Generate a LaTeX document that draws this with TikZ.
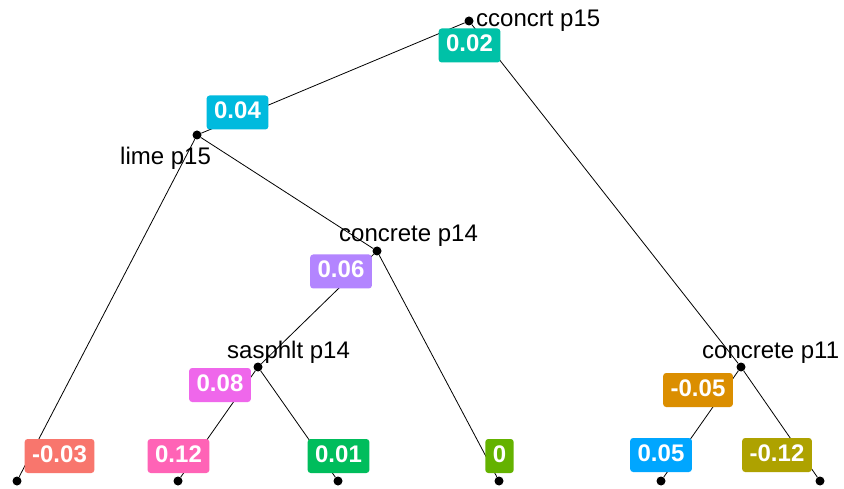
\documentclass[tikz,border=0pt]{standalone}
\usepackage{fontspec}
\setmainfont{Liberation Sans}
\begin{document}
\begin{tikzpicture}[x=1pt,y=-1pt,
  dot/.style={circle,fill=black,inner sep=0pt,minimum size=9pt},
  tag/.style={anchor=base west,inner sep=0pt,text=black,
    font=\fontsize{24}{28}\selectfont},
  val/.style={rounded corners=3pt,fill=#1,text=white,inner xsep=7.5pt,
    inner ysep=0pt,minimum height=34pt,text height=12.5pt,text depth=0pt,
    font=\fontsize{24}{28}\selectfont\bfseries},
  edge/.style={draw=black,line width=0.8pt}]
\definecolor{cA}{HTML}{F8766D}
\definecolor{cB}{HTML}{DB8E00}
\definecolor{cC}{HTML}{AEA200}
\definecolor{cD}{HTML}{64B200}
\definecolor{cE}{HTML}{00BD5C}
\definecolor{cF}{HTML}{00C1A7}
\definecolor{cG}{HTML}{00BADE}
\definecolor{cH}{HTML}{00A6FF}
\definecolor{cI}{HTML}{B385FF}
\definecolor{cJ}{HTML}{EF67EB}
\definecolor{cK}{HTML}{FF63B6}
\useasboundingbox[fill=white] (0,0) rectangle (844,489);

% split labels
\node[tag] (troot) at (476,27)  {cconcrt p15};
\node[tag] (tlime) at (120,165) {lime p15};
\node[tag] (tc14)  at (339,242) {concrete p14};
\node[tag] (tsas)  at (227,358) {sasphlt p14};
\node[tag] (tc11)  at (702,358) {concrete p11};

% tree nodes
\node[dot] (root) at (469,21)  {};
\node[dot] (lime) at (197,135) {};
\node[dot] (c14)  at (377,251) {};
\node[dot] (sas)  at (258,367) {};
\node[dot] (c11)  at (741,367) {};
\node[dot] (l1) at (17,481)  {};
\node[dot] (l2) at (178,481) {};
\node[dot] (l3) at (338,481) {};
\node[dot] (l4) at (499,481) {};
\node[dot] (l5) at (661,481) {};
\node[dot] (l6) at (820,481) {};

% branches
\draw[edge] (root) -- (lime);
\draw[edge] (root) -- (c11);
\draw[edge] (lime) -- (l1);
\draw[edge] (lime) -- (c14);
\draw[edge] (c14) -- (sas);
\draw[edge] (c14) -- (l4);
\draw[edge] (sas) -- (l2);
\draw[edge] (sas) -- (l3);
\draw[edge] (c11) -- (l5);
\draw[edge] (c11) -- (l6);

% value labels
\node[val=cF] (v1)  at (469.5,45.5) {0.02};
\node[val=cG] (v2)  at (237.5,112.5) {0.04};
\node[val=cI] (v3)  at (341,271.5) {0.06};
\node[val=cJ] (v4)  at (220,385) {0.08};
\node[val=cB] (v5)  at (698,390) {-0.05};
\node[val=cA] (v6)  at (59.5,456) {-0.03};
\node[val=cK] (v7)  at (178.5,456) {0.12};
\node[val=cE] (v8)  at (338.5,456) {0.01};
\node[val=cD] (v9)  at (499.5,456) {0};
\node[val=cH] (v10) at (661,455) {0.05};
\node[val=cC] (v11) at (777,455) {-0.12};
\end{tikzpicture}
\end{document}
